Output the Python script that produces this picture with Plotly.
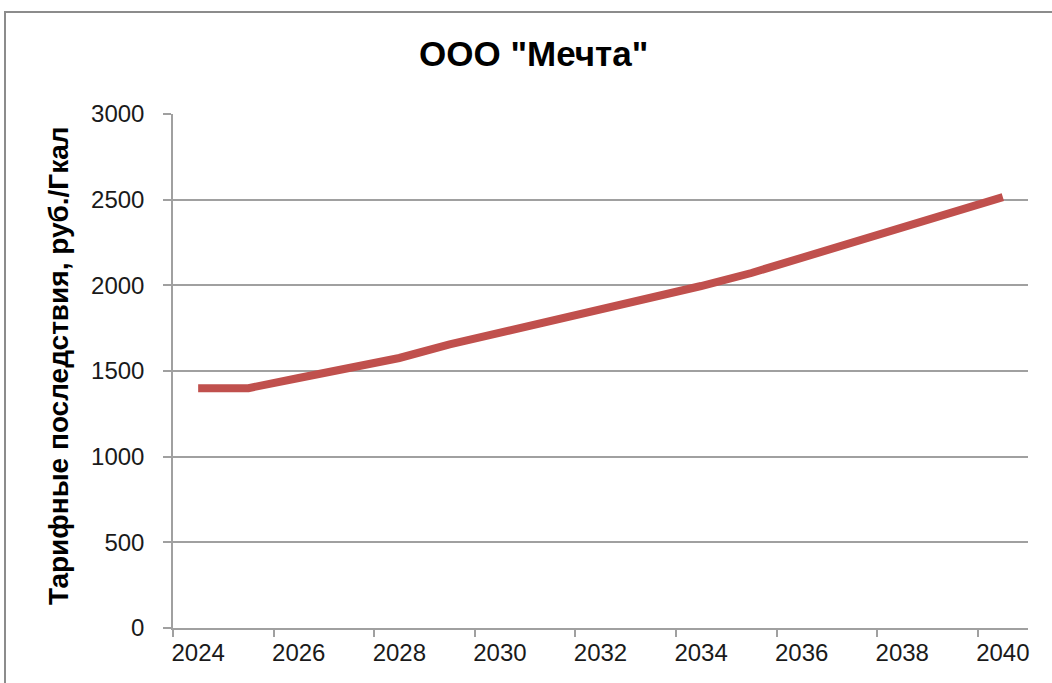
import plotly.graph_objects as go

years = list(range(2024, 2041))
tariff = [1400, 1400, 1459, 1518, 1576, 1655, 1722, 1786, 1862, 1926,
          1996, 2072, 2160, 2250, 2335, 2422, 2515]
tick_labels = [str(y) for y in range(2024, 2041, 2)]
tick_bounds = [y - 0.5 for y in range(2024, 2041, 2)]
y_ticks = [0, 500, 1000, 1500, 2000, 2500, 3000]

title_text = 'ООО "Мечта"'
y_title = "Тарифные последствия, руб./Гкал"

W, H = 1052, 683
# plot area in page pixels: x 173..1028, y 114..628
L, T, R, B = 173, 114, 24, 55
pw, ph = W - L - R, H - T - B

def px(x):
    return (x - L) / pw

def py(y):
    return (H - B - y) / ph

FONT = "Liberation Sans, Arial, sans-serif"
GRID = "#A0A0A0"

fig = go.Figure()
fig.add_trace(go.Scatter(
    x=years, y=tariff, mode="lines",
    line=dict(color="#C0504D", width=8, shape="linear"),
    showlegend=False, hoverinfo="x+y",
))
fig.add_trace(go.Scatter(x=years, y=tariff, xaxis="x2", mode="lines",
                         line=dict(width=0), showlegend=False, hoverinfo="skip"))

fig.update_layout(
    width=W, height=H,
    margin=dict(l=L, r=R, t=T, b=B),
    paper_bgcolor="white", plot_bgcolor="white",
    font=dict(family=FONT, color="#1a1a1a"),
    xaxis=dict(
        range=[2023.5, 2040.5], tickmode="array", tickvals=tick_bounds,
        showticklabels=False, ticks="outside", ticklen=7, tickcolor=GRID,
        tickwidth=1.5, showline=True, linecolor=GRID, linewidth=1.5,
        showgrid=False, zeroline=False,
    ),
    xaxis2=dict(
        range=[2023.5, 2040.5], overlaying="x", side="bottom", anchor="y",
        tickmode="array", tickvals=list(range(2024, 2041, 2)), ticktext=tick_labels,
        ticks="", showline=False, showgrid=False, zeroline=False,
        tickfont=dict(size=24, family=FONT, color="#1a1a1a"),
        ticklabelstandoff=8,
    ),
    yaxis=dict(
        range=[0, 3000], tickmode="array", tickvals=y_ticks,
        ticks="outside", ticklen=8, tickcolor=GRID, tickwidth=1.5,
        showline=True, linecolor=GRID, linewidth=1.5,
        showgrid=True, gridcolor=GRID, gridwidth=1.5, zeroline=False,
        tickfont=dict(size=24, family=FONT, color="#1a1a1a"),
        ticklabelstandoff=14,
    ),
    annotations=[
        dict(text=f"<b>{title_text}</b>", xref="paper", yref="paper",
             x=px(533), y=py(54), xanchor="center", yanchor="middle",
             showarrow=False,
             font=dict(size=35, family=FONT, color="black")),
        dict(text=f"<b>{y_title}</b>", xref="paper", yref="paper",
             x=px(58), y=py(366), xanchor="center", yanchor="middle",
             showarrow=False, textangle=-90,
             font=dict(size=28, family=FONT, color="black")),
    ],
    shapes=[
        dict(type="rect", xref="paper", yref="paper",
             x0=px(5), x1=px(1100), y0=py(760), y1=py(12),
             line=dict(color="#8C8C8C", width=2), fillcolor="rgba(0,0,0,0)",
             layer="below"),
    ],
)

fig.write_html("out.html",
               config={"displayModeBar": False},
               post_script="document.body.style.margin='0';document.body.style.overflow='hidden';")
